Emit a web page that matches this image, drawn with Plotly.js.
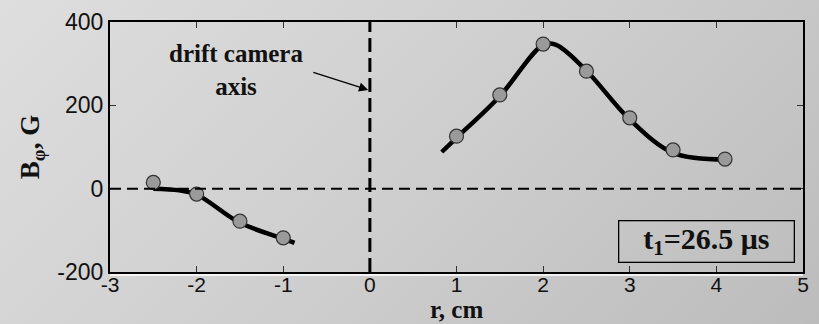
<!DOCTYPE html>
<html><head><meta charset="utf-8">
<script src="https://cdn.plot.ly/plotly-3.0.1.min.js"></script>
<style>
html,body{margin:0;padding:0;}
body{width:819px;height:324px;background:linear-gradient(135deg,#dedede 0%,#cdcdcd 55%,#bcbcbc 100%);}
#chart{width:819px;height:324px;}
</style></head><body>
<div id="chart"></div>
<script>
// measured points
const leftR = [-2.5, -2.0, -1.5, -1.0];
const leftB = [15, -13, -78, -118];
const rightR = [1.0, 1.5, 2.0, 2.5, 3.0, 3.5, 4.1];
const rightB = [126, 225, 347, 282, 170, 93, 71];
// fitted curves
const leftFitR = [-2.5, -2.2, -2.0, -1.5, -1.0, -0.87];
const leftFitB = [0, -4, -14, -82, -120, -130];
const rightFitR = [0.83, 1.0, 1.5, 2.0, 2.15, 2.5, 3.0, 3.5, 4.1];
const rightFitB = [88, 122, 222, 345, 345, 283, 166, 86, 70];
const xTicks = [-3, -2, -1, 0, 1, 2, 3, 4, 5];
const yTicks = [-200, 0, 200, 400];

const fitLine = {color:'#000', width:4.5, shape:'spline', smoothing:1};
const mk = {size:14, color:'#9a9a9a', line:{color:'#333', width:1.2}};
const traces = [
  {x:leftFitR, y:leftFitB, mode:'lines', line:fitLine, hoverinfo:'skip'},
  {x:rightFitR, y:rightFitB, mode:'lines', line:fitLine, hoverinfo:'skip'},
  {x:leftR, y:leftB, mode:'markers', marker:mk},
  {x:rightR, y:rightB, mode:'markers', marker:mk}
];
const serif = 'Liberation Serif, Times New Roman, serif';
const sans = 'Liberation Sans, Arial, sans-serif';
const layout = {
  width:819, height:324,
  margin:{l:110, r:16, t:22, b:52},
  paper_bgcolor:'rgba(0,0,0,0)', plot_bgcolor:'rgba(0,0,0,0)',
  showlegend:false,
  xaxis:{range:[-3,5], tickvals:xTicks, ticktext:xTicks.map(String), showgrid:false, zeroline:false,
    showline:true, linecolor:'#000', linewidth:2, mirror:'allticks', ticks:'inside', ticklen:6, tickcolor:'#333',
    tickfont:{family:sans, size:21, color:'#111'}, ticklabelstandoff:-7},
  yaxis:{range:[-200,400], tickvals:yTicks, ticktext:yTicks.map(String), showgrid:false, zeroline:false,
    showline:true, linecolor:'#000', linewidth:2, mirror:'allticks', ticks:'inside', ticklen:6, tickcolor:'#333',
    tickfont:{family:sans, size:23, color:'#111'},
    title:{text:'<b>B<sub>φ</sub>, G</b>', font:{family:serif, size:27, color:'#111'}, standoff:10}},
  shapes:[
    {type:'line', xref:'x', yref:'y', x0:-3, x1:5, y0:0, y1:0, line:{color:'#000', width:2, dash:'11px,6px'}},
    {type:'line', xref:'x', yref:'y', x0:0, x1:0, y0:-200, y1:400, line:{color:'#000', width:3, dash:'14px,6px'}},
    {type:'line', xref:'paper', yref:'paper', x0:0, x1:1, y0:-0.012, y1:-0.012, line:{color:'#fff', width:1.5}}
  ],
  annotations:[
    {x:0.5, y:-0.207, xref:'paper', yref:'paper', xanchor:'center', yanchor:'bottom', text:'<b>r, cm</b>', showarrow:false,
     font:{family:serif, size:25, color:'#111'}, borderpad:0},
    {x:-1.54, y:284, xref:'x', yref:'y', text:'<b>drift camera<br>axis</b>', showarrow:false,
     font:{family:serif, size:25, color:'#111'}, align:'center'},
    {x:-0.02, y:237, ax:-0.67, ay:280, xref:'x', yref:'y', axref:'x', ayref:'y', text:'', showarrow:true,
     arrowhead:2, arrowsize:1.4, arrowwidth:1.3, arrowcolor:'#000'},
    {x:3.89, y:-127, xref:'x', yref:'y', xanchor:'center', yanchor:'middle', text:'<b>t<sub>1</sub>=26.5 μs</b>', showarrow:false,
     font:{family:serif, size:30, color:'#111'},
     bordercolor:'#000', borderwidth:1.3, borderpad:0, width:174, height:40}
  ]
};
Plotly.newPlot('chart', traces, layout, {displayModeBar:false, staticPlot:true});
</script>
</body></html>
